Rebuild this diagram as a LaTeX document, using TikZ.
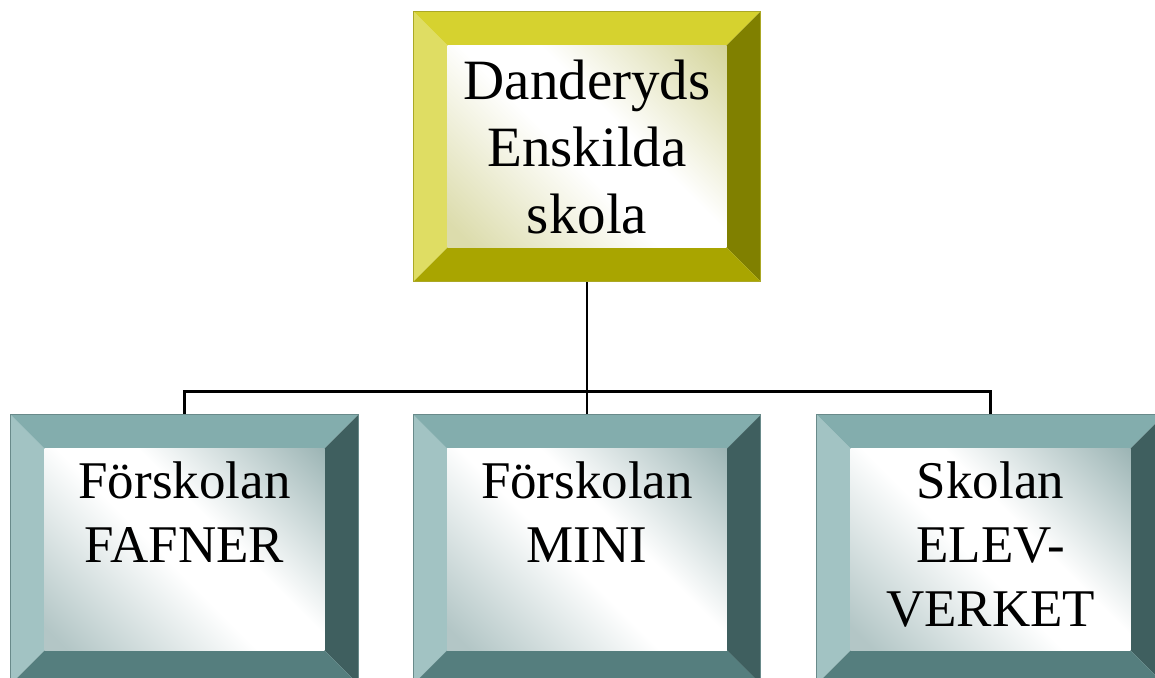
\documentclass[tikz,border=0pt]{standalone}
\usepackage{fontspec}
\setmainfont{Liberation Serif}
\usetikzlibrary{positioning}

\definecolor{ylight}{HTML}{DFDD63}
\definecolor{ytop}{HTML}{D6D22F}
\definecolor{ydark}{HTML}{808000}
\definecolor{ybot}{HTML}{A9A500}
\definecolor{yface}{HTML}{D0D090}
\definecolor{tlight}{HTML}{A2C3C3}
\definecolor{ttop}{HTML}{83ADAD}
\definecolor{tdark}{HTML}{3F5F5F}
\definecolor{tbot}{HTML}{557E7E}
\definecolor{tface}{HTML}{93AEAE}

\pgfdeclarehorizontalshading{yellowface}{100bp}{color(0bp)=(yface!75!white); color(18bp)=(yface!75!white); color(46bp)=(white); color(58bp)=(white); color(88bp)=(yface); color(100bp)=(yface)}
\pgfdeclarehorizontalshading{tealface}{100bp}{color(0bp)=(tface!70!white); color(18bp)=(tface!70!white); color(46bp)=(white); color(58bp)=(white); color(88bp)=(tface); color(100bp)=(tface)}

% bevelled frame round an empty node
\newcommand\bevelbox[6]{%
  \fill[#2] (#1.north west) -- ([shift={(17pt,-17pt)}]#1.north west) -- ([shift={(17pt,17pt)}]#1.south west) -- (#1.south west) -- cycle;
  \fill[#3] (#1.north west) -- (#1.north east) -- ([shift={(-17pt,-17pt)}]#1.north east) -- ([shift={(17pt,-17pt)}]#1.north west) -- cycle;
  \fill[#4] (#1.north east) -- (#1.south east) -- ([shift={(-17pt,17pt)}]#1.south east) -- ([shift={(-17pt,-17pt)}]#1.north east) -- cycle;
  \fill[#5] (#1.south west) -- (#1.south east) -- ([shift={(-17pt,17pt)}]#1.south east) -- ([shift={(17pt,17pt)}]#1.south west) -- cycle;
  \shade[shading=#6, shading angle=45] ([shift={(17pt,-17pt)}]#1.north west) rectangle ([shift={(-17pt,17pt)}]#1.south east);
  \draw[#3!80!black, line width=0.5pt] (#1.north west) rectangle (#1.south east);
}

\begin{document}
\begin{tikzpicture}[
    frame/.style = {minimum width=173pt, minimum height=134.5pt, inner sep=0pt},
    toptext/.style = {align=center, inner sep=0pt, font=\fontsize{28.5}{33.5}\selectfont},
    subtext/.style = {align=center, inner sep=0pt, anchor=north, font=\fontsize{26.5}{32}\selectfont},
    link/.style = {line width=1.1pt}
]
    \useasboundingbox (0,0) rectangle (577.5pt,-339pt);

    \node (top) [frame] at (293.5pt,-73.25pt) {};
    \node (fafner) [frame, minimum width=173.5pt] at (92.25pt,-274.75pt) {};
    \node (mini) [frame, minimum width=173.5pt] at (293.5pt,-274.75pt) {};
    \node (elev) [frame, minimum width=173.5pt] at (495.25pt,-274.75pt) {};

    % links
    \coordinate (bus) at ([yshift=-55pt]top.south);
    \draw[link] (top.south) -- (bus) -| (fafner.north);
    \draw[link] (bus) -| (mini.north);
    \draw[link] (bus) -| (elev.north);

    \bevelbox{top}{ylight}{ytop}{ydark}{ybot}{yellowface}
    \bevelbox{fafner}{tlight}{ttop}{tdark}{tbot}{tealface}
    \bevelbox{mini}{tlight}{ttop}{tdark}{tbot}{tealface}
    \bevelbox{elev}{tlight}{ttop}{tdark}{tbot}{tealface}

    \node (toptxt) [toptext] at ([yshift=-0.5pt]top.center) {Danderyds\\Enskilda\\skola};
    \node (fafnertxt) [subtext] at ([yshift=-23.4pt]fafner.north) {Förskolan\\FAFNER};
    \node (minitxt) [subtext] at ([yshift=-23.4pt]mini.north) {Förskolan\\MINI};
    \node (elevtxt) [subtext] at ([yshift=-23.4pt]elev.north) {Skolan\\ELEV-\\VERKET};
\end{tikzpicture}
\end{document}
